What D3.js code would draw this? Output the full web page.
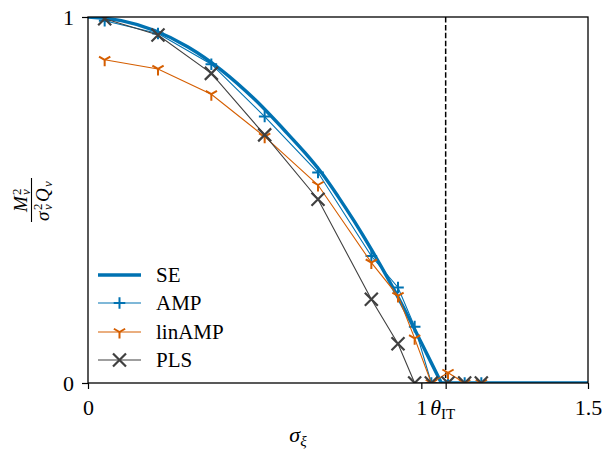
<!DOCTYPE html>
<html>
<head>
<meta charset="utf-8">
<script src="https://cdn.jsdelivr.net/npm/d3@7"></script>
<style>
  html, body { margin: 0; padding: 0; background: #fff; }
  svg { display: block; }
</style>
</head>
<body>
<svg id="chart" width="606" height="450"></svg>
<script>
// ---- data ----
const thetaIT = 1.073;
const xTicks = [0, 1, thetaIT, 1.5];
const xTickLabels = ["0", "1", "θIT", "1.5"];
const yTicks = [0, 1];
const yTickLabels = ["0", "1"];

const seX    = [0, 0.1, 0.2, 0.3, 0.4, 0.5, 0.6, 0.65, 0.7, 0.75, 0.8, 0.85, 0.9, 0.95, 1.0, 1.03, 1.06];
const seVals = [1.0, 0.99, 0.963, 0.918, 0.855, 0.775, 0.68, 0.63, 0.575, 0.51, 0.44, 0.365, 0.285, 0.2, 0.11, 0.055, 0];
const seTailX = [1.06, 1.5];
const seTailVals = [0, 0];

const simX       = [0.05, 0.21, 0.37, 0.53, 0.69, 0.85, 0.93, 0.98, 1.03, 1.08, 1.13, 1.18];
const ampVals    = [0.99, 0.955, 0.871, 0.728, 0.575, 0.347, 0.261, 0.154, 0, 0, 0, 0];
const linampVals = [0.883, 0.858, 0.789, 0.673, 0.541, 0.329, 0.238, 0.122, 0, 0.028, 0, 0];
const plsVals    = [0.995, 0.951, 0.846, 0.678, 0.502, 0.229, 0.107, 0, 0, 0, 0, 0];

const seriesNames = ["SE", "AMP", "linAMP", "PLS"];

// ---- layout ----
const FONT = "'Liberation Serif', 'DejaVu Serif', serif";
const svg = d3.select("#chart");
const pLeft = 88, pRight = 588, pTop = 17, pBottom = 383;
const x = d3.scaleLinear().domain([0, 1.5]).range([pLeft, pRight]);
const y = d3.scaleLinear().domain([0, 1]).range([pBottom, pTop]);

const BLUE = "#0072B2", ORANGE = "#D55E00", GRAY = "#404040";

svg.append("defs").append("clipPath").attr("id", "plotclip")
  .append("rect").attr("x", pLeft).attr("y", pTop)
  .attr("width", pRight - pLeft).attr("height", pBottom - pTop);

const plot = svg.append("g").attr("clip-path", "url(#plotclip)");

// dashed theta line
plot.append("line")
  .attr("x1", x(thetaIT)).attr("x2", x(thetaIT))
  .attr("y1", y(1)).attr("y2", y(0))
  .attr("stroke", "#000").attr("stroke-width", 1.5)
  .attr("stroke-dasharray", "5.5,2.4");

const line = d3.line().x(d => x(d[0])).y(d => y(d[1]));
const smooth = d3.line().x(d => x(d[0])).y(d => y(d[1])).curve(d3.curveMonotoneX);

// SE
plot.append("path")
  .datum(seX.map((v, i) => [v, seVals[i]]))
  .attr("d", smooth).attr("fill", "none")
  .attr("stroke", BLUE).attr("stroke-width", 3.4);
plot.append("path")
  .datum(seTailX.map((v, i) => [v, seTailVals[i]]))
  .attr("d", line).attr("fill", "none")
  .attr("stroke", BLUE).attr("stroke-width", 3.4);

// marker makers
function plusPath(r) { return `M${-r},0H${r}M0,${-r}V${r}`; }
function triDownPath(r) { return `M0,0V${r}M0,0L${-0.866*r},${-0.5*r}M0,0L${0.866*r},${-0.5*r}`; }
function xPath(r) { return `M${-r},${-r}L${r},${r}M${-r},${r}L${r},${-r}`; }

const series = [
  { vals: ampVals, color: BLUE, marker: plusPath(5.8), mw: 2.0 },
  { vals: linampVals, color: ORANGE, marker: triDownPath(6.5), mw: 2.0 },
  { vals: plsVals, color: GRAY, marker: xPath(6.5), mw: 2.2 }
];

series.forEach(s => {
  const pts = simX.map((v, i) => [v, s.vals[i]]);
  plot.append("path").datum(pts).attr("d", line)
    .attr("fill", "none").attr("stroke", s.color).attr("stroke-width", 1.1);
  plot.selectAll(null).data(pts).enter().append("path")
    .attr("transform", d => `translate(${x(d[0])},${y(d[1])})`)
    .attr("d", s.marker).attr("fill", "none")
    .attr("stroke", s.color).attr("stroke-width", s.mw);
});

// frame
svg.append("rect").attr("x", pLeft).attr("y", pTop)
  .attr("width", pRight - pLeft).attr("height", pBottom - pTop)
  .attr("fill", "none").attr("stroke", "#000").attr("stroke-width", 1.3);

// axes
const xAxis = d3.axisBottom(x).tickValues(xTicks).tickSize(6).tickSizeOuter(0)
  .tickFormat((d, i) => xTickLabels[i]);
const gx = svg.append("g").attr("transform", `translate(0,${pBottom})`).call(xAxis);
gx.select(".domain").remove();
gx.attr("font-family", null);
gx.selectAll(".tick line").attr("stroke", "#000").attr("stroke-width", 1.2);
gx.selectAll(".tick text").attr("y", 32).attr("dy", null)
  .style("font-family", FONT).style("font-size", "22px").attr("fill", "#000");
gx.selectAll(".tick text").filter((d) => d === thetaIT).each(function () {
  const t = d3.select(this);
  t.text(null);
  t.attr("text-anchor", "start").attr("x", -16);
  t.append("tspan").style("font-style", "italic").text("θ");
  t.append("tspan").style("font-size", "15px").attr("dy", 4).text("IT");
});

const yAxis = d3.axisLeft(y).tickValues(yTicks).tickSize(6).tickSizeOuter(0).tickPadding(8)
  .tickFormat((d, i) => yTickLabels[i]);
const gy = svg.append("g").attr("transform", `translate(${pLeft},0)`).call(yAxis);
gy.select(".domain").remove();
gy.attr("font-family", null);
gy.selectAll(".tick line").attr("stroke", "#000").attr("stroke-width", 1.2);
gy.selectAll(".tick text").style("font-family", FONT).style("font-size", "22px").attr("fill", "#000");

function txt(parent, xx, yy, size, str, italic) {
  return parent.append("text").attr("x", xx).attr("y", yy)
    .style("font-family", FONT).style("font-size", size + "px")
    .style("font-style", italic ? "italic" : "normal").attr("fill", "#000").text(str);
}

// x label sigma_xi
const xl = svg.append("text").attr("x", 298).attr("y", 442).attr("text-anchor", "middle")
  .style("font-family", FONT).style("font-size", "22px").attr("fill", "#000");
xl.append("tspan").style("font-style", "italic").text("σ");
xl.append("tspan").style("font-style", "italic").style("font-size", "15px").attr("dy", 4).text("ξ");

// y label fraction M_v^2 / (sigma_v^2 Q_v)
const yl = svg.append("g").attr("transform", "translate(31.5,200) rotate(-90)");
yl.append("line").attr("x1", -22).attr("x2", 22).attr("y1", 0).attr("y2", 0)
  .attr("stroke", "#000").attr("stroke-width", 1.1);
txt(yl, -12, -4.5, 19, "M", true);
txt(yl, 5, -11, 13, "2", false);
txt(yl, 5, -1.5, 13, "v", true);
txt(yl, -21, 17, 19, "σ", true);
txt(yl, -10, 10, 13, "2", false);
txt(yl, -10, 20, 13, "v", true);
txt(yl, -2, 17, 19, "Q", true);
txt(yl, 13, 20, 13, "v", true);

// legend
const legY = [275, 303, 332, 360];
const legMarkers = [null, series[0], series[1], series[2]];
const legColors = [BLUE, BLUE, ORANGE, GRAY];
seriesNames.forEach((name, i) => {
  const g = svg.append("g").attr("transform", `translate(0,${legY[i]})`);
  g.append("line").attr("x1", 98).attr("x2", 141).attr("y1", 0).attr("y2", 0)
    .attr("stroke", legColors[i]).attr("stroke-width", i === 0 ? 3.4 : 1.1);
  if (legMarkers[i]) {
    g.append("path").attr("transform", "translate(119.5,0)").attr("d", legMarkers[i].marker)
      .attr("fill", "none").attr("stroke", legColors[i]).attr("stroke-width", legMarkers[i].mw);
  }
  txt(g, 156, 6.5, 21, name, false);
});
</script>
</body>
</html>
